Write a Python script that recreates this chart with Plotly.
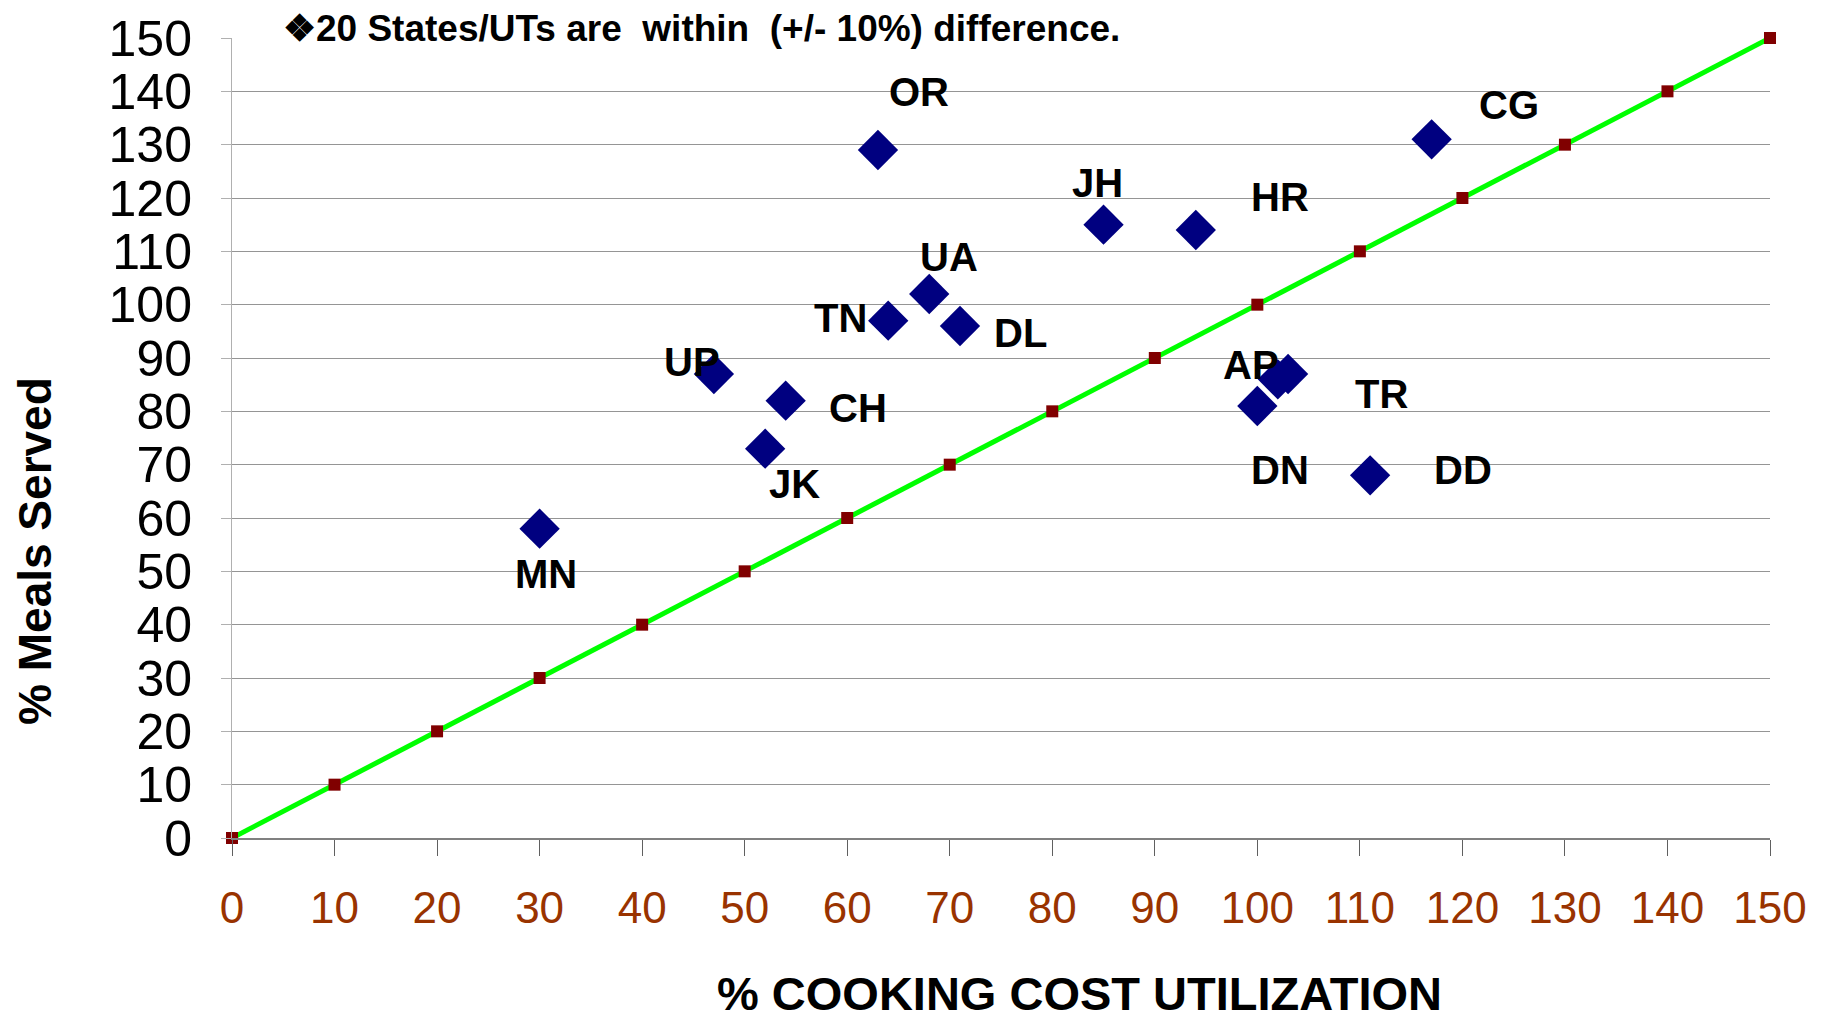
import plotly.graph_objects as go

# states / UTs plotted against the 1:1 reference line
states = ["MN", "UP", "JK", "CH", "OR", "TN", "UA", "DL", "JH", "HR", "AP", "TR", "DN", "DD", "CG"]
cooking_cost = [30, 47, 52, 54, 63, 64, 68, 71, 85, 94, 102, 103, 100, 111, 117]
meals_served = [58, 87, 73, 82, 129, 97, 102, 96, 115, 114, 86, 87, 81, 68, 131]

# equal-percentage reference line
ref_x = [0, 10, 20, 30, 40, 50, 60, 70, 80, 90, 100, 110, 120, 130, 140, 150]
ref_y = [0, 10, 20, 30, 40, 50, 60, 70, 80, 90, 100, 110, 120, 130, 140, 150]

tick_vals = [0, 10, 20, 30, 40, 50, 60, 70, 80, 90, 100, 110, 120, 130, 140, 150]

note = "\u275620 States/UTs are  within  (+/- 10%) difference."

# label offsets in pixels (x, y) from each diamond
label_shift = {
    "MN": (6, -45), "UP": (-22, 12), "JK": (29, -35), "CH": (72, -7),
    "OR": (41, 58), "TN": (-48, 3), "UA": (20, 37), "DL": (61, -7),
    "JH": (-6, 42), "HR": (84, 33), "AP": (-27, 14), "TR": (93, -20),
    "DN": (23, -64), "DD": (93, 5), "CG": (77, 34),
}

font_main = "Arial, Liberation Sans"

fig = go.Figure()
fig.add_trace(go.Scatter(
    x=ref_x, y=ref_y, mode="lines+markers",
    line=dict(color="#00FF00", width=5),
    marker=dict(symbol="square", size=12, color="#800000"),
    cliponaxis=False, showlegend=False, hoverinfo="skip",
))
fig.add_trace(go.Scatter(
    x=cooking_cost, y=meals_served, mode="markers", text=states,
    marker=dict(symbol="diamond", size=31, color="#000080"),
    cliponaxis=False, showlegend=False,
))

for s, xv, yv in zip(states, cooking_cost, meals_served):
    dx, dy = label_shift[s]
    fig.add_annotation(x=xv, y=yv, text="<b>" + s + "</b>", showarrow=False,
                       xshift=dx, yshift=dy,
                       font=dict(family=font_main, size=40, color="black"))

fig.add_annotation(xref="paper", yref="paper", x=0.0325, y=1.012, xanchor="left", yanchor="middle",
                   text="<b>" + note + "</b>", showarrow=False, borderpad=0,
                   font=dict(family=font_main, size=37, color="black"))
fig.add_annotation(xref="paper", yref="paper", x=-0.128, y=0.359, textangle=-90,
                   xanchor="center", yanchor="middle", borderpad=0,
                   text="<b>% Meals Served</b>", showarrow=False,
                   font=dict(family=font_main, size=46, color="black"))
fig.add_annotation(xref="paper", yref="paper", x=0.551, y=-0.194,
                   xanchor="center", yanchor="middle", borderpad=0,
                   text="<b>% COOKING COST UTILIZATION</b>", showarrow=False,
                   font=dict(family=font_main, size=47, color="black"))

fig.update_xaxes(
    range=[0, 150], tickvals=tick_vals, showgrid=False, zeroline=False,
    showline=True, linecolor="#808080", linewidth=2,
    ticks="outside", ticklen=16, tickcolor="#606060", ticklabelstandoff=14,
    tickfont=dict(family=font_main, size=44, color="#993300"),
    automargin=False,
)
fig.update_yaxes(
    range=[0, 150], tickvals=tick_vals, showgrid=True, gridcolor="#959595", gridwidth=1,
    zeroline=False, showline=True, linecolor="#b0b0b0", linewidth=1,
    ticks="outside", ticklen=10, tickcolor="#b0b0b0", ticklabelstandoff=19,
    tickfont=dict(family=font_main, size=50, color="black"),
    automargin=False,
)
fig.update_layout(
    width=1828, height=1019,
    margin=dict(l=224, r=66, t=30, b=189),
    plot_bgcolor="white", paper_bgcolor="white",
)
fig.write_html("out.html")
